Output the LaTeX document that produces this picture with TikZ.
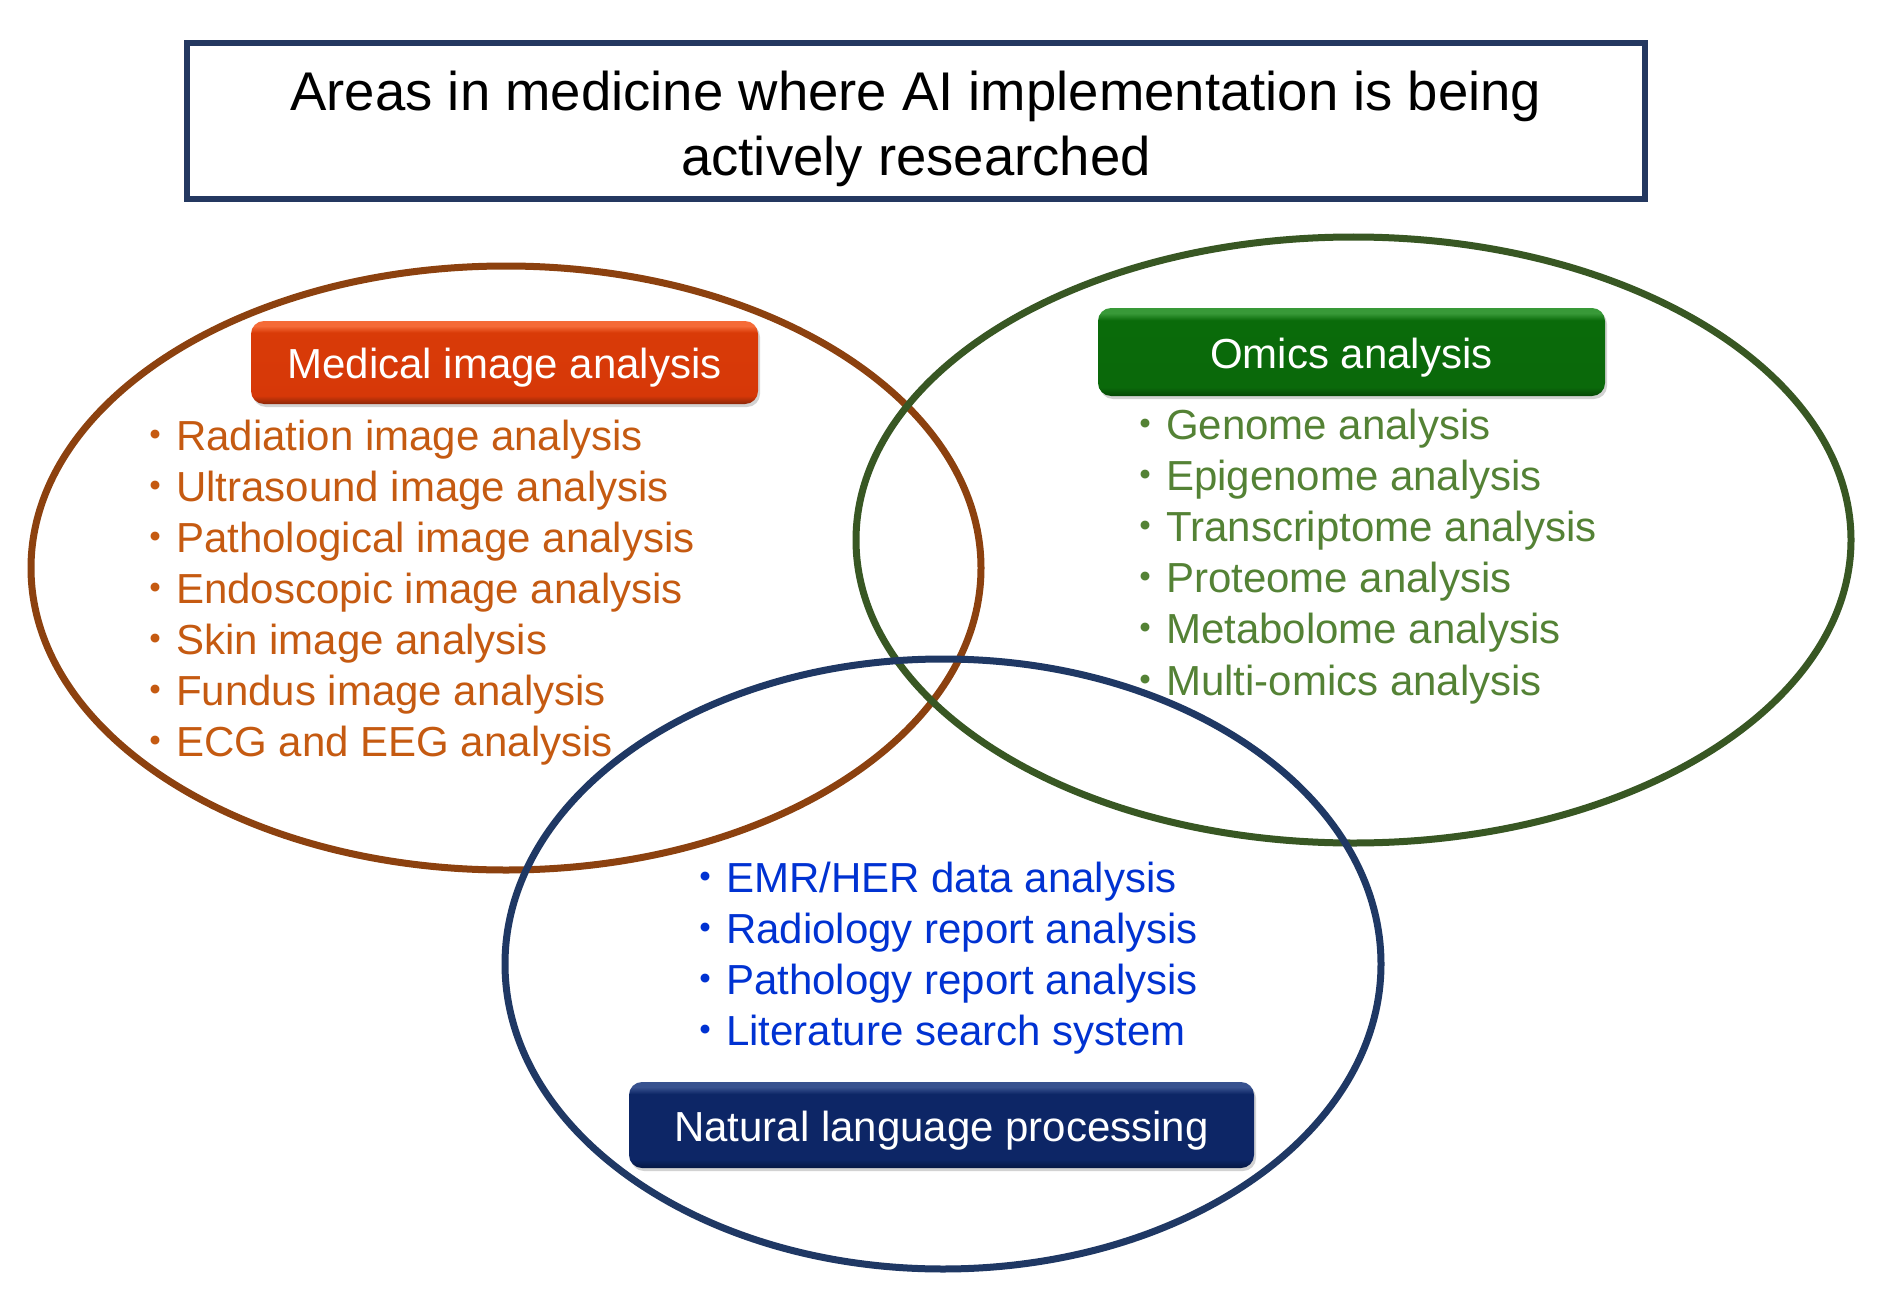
\documentclass[tikz,border=0pt]{standalone}
\usepackage{fontspec}
\setmainfont{Liberation Sans}
\newfontfamily\cjk{Noto Sans CJK JP}
\usetikzlibrary{shapes.geometric,shadows}
\definecolor{titleborder}{RGB}{36,56,96}
\definecolor{brownline}{RGB}{140,65,15}
\definecolor{greenline}{RGB}{56,87,35}
\definecolor{blueline}{RGB}{31,56,100}
\definecolor{browntext}{RGB}{197,90,17}
\definecolor{greentext}{RGB}{84,130,53}
\definecolor{bluetext}{RGB}{0,50,210}
\pgfdeclareverticalshading{medshade}{100bp}{rgb(0bp)=(0.55,0.15,0.03); rgb(25bp)=(0.55,0.15,0.03); rgb(30bp)=(0.84,0.22,0.03); rgb(68bp)=(0.85,0.23,0.03); rgb(72bp)=(0.96,0.42,0.22); rgb(75bp)=(0.96,0.42,0.22); rgb(100bp)=(0.96,0.42,0.22)}
\pgfdeclareverticalshading{omicsshade}{100bp}{rgb(0bp)=(0.02,0.28,0.02); rgb(25bp)=(0.02,0.28,0.02); rgb(30bp)=(0.04,0.41,0.04); rgb(68bp)=(0.04,0.42,0.04); rgb(72bp)=(0.22,0.60,0.22); rgb(75bp)=(0.22,0.60,0.22); rgb(100bp)=(0.22,0.60,0.22)}
\pgfdeclareverticalshading{nlpshade}{100bp}{rgb(0bp)=(0.02,0.09,0.26); rgb(25bp)=(0.02,0.09,0.26); rgb(30bp)=(0.05,0.15,0.40); rgb(68bp)=(0.05,0.15,0.40); rgb(72bp)=(0.22,0.32,0.56); rgb(75bp)=(0.22,0.32,0.56); rgb(100bp)=(0.22,0.32,0.56)}
\newcommand{\mybul}{{\cjk ・}}
\tikzset{
  ringline/.style={line width=7},
  catbox/.style={rectangle, rounded corners=13, inner sep=0, text=white,
    font=\fontsize{42}{50}\selectfont, text height=32, text depth=0,
    drop shadow={opacity=0.35, shadow xshift=2pt, shadow yshift=-3pt}},
  itembrown/.style={anchor=base west, inner sep=0, text=browntext, font=\fontsize{42}{50}\selectfont},
  itemgreen/.style={anchor=base west, inner sep=0, text=greentext, font=\fontsize{42}{50}\selectfont},
  itemblue/.style={anchor=base west, inner sep=0, text=bluetext, font=\fontsize{42}{50}\selectfont},
  titletext/.style={anchor=base, inner sep=0, font=\fontsize{54.5}{65}\selectfont}
}
\begin{document}
\begin{tikzpicture}[x=1pt,y=-1pt]
\useasboundingbox[fill=white] (0,0) rectangle (1877,1300);
% title
\node[draw=titleborder, line width=6, minimum width=1458, minimum height=155.5, inner sep=0] (titlebox) at (916,121.25) {};
\node[titletext] (titleA) at (916,111) {Areas in medicine where AI implementation is being};
\node[titletext] (titleB) at (916,176) {actively researched};
% rings
\coordinate (brownc) at (506,568);
\coordinate (greenc) at (1353.5,540);
\coordinate (bluec) at (943,964);
\draw[ringline, draw=brownline] (brownc) ellipse [x radius=475, y radius=302];
\draw[ringline, draw=greenline] (greenc) ellipse [x radius=497.5, y radius=303];
\draw[ringline, draw=blueline] (bluec) ellipse [x radius=438, y radius=305];
% category boxes
\node[catbox, shading=medshade, minimum width=507, minimum height=83] (med) at (504.5,362.5) {Medical image analysis};
\node[catbox, shading=omicsshade, minimum width=507, minimum height=88] (omics) at (1351.5,352) {Omics analysis};
\node[catbox, shading=nlpshade, minimum width=625, minimum height=86] (nlp) at (941.5,1125) {Natural language processing};
% medical items
\node[itembrown] (m1) at (134,450) {\mybul Radiation image analysis};
\node[itembrown] (m2) at (134,501.1) {\mybul Ultrasound image analysis};
\node[itembrown] (m3) at (134,552.1) {\mybul Pathological image analysis};
\node[itembrown] (m4) at (134,603.2) {\mybul Endoscopic image analysis};
\node[itembrown] (m5) at (134,654.3) {\mybul Skin image analysis};
\node[itembrown] (m6) at (134,705.4) {\mybul Fundus image analysis};
\node[itembrown] (m7) at (134,756.4) {\mybul ECG and EEG analysis};
% omics items
\node[itemgreen] (o1) at (1124,439) {\mybul Genome analysis};
\node[itemgreen] (o2) at (1124,490.2) {\mybul Epigenome analysis};
\node[itemgreen] (o3) at (1124,541.4) {\mybul Transcriptome analysis};
\node[itemgreen] (o4) at (1124,592.6) {\mybul Proteome analysis};
\node[itemgreen] (o5) at (1124,643.8) {\mybul Metabolome analysis};
\node[itemgreen] (o6) at (1124,695) {\mybul Multi-omics analysis};
% nlp items
\node[itemblue] (n1) at (684,892.5) {\mybul EMR/HER data analysis};
\node[itemblue] (n2) at (684,943.5) {\mybul Radiology report analysis};
\node[itemblue] (n3) at (684,994.5) {\mybul Pathology report analysis};
\node[itemblue] (n4) at (684,1045.5) {\mybul Literature search system};
\end{tikzpicture}
\end{document}
